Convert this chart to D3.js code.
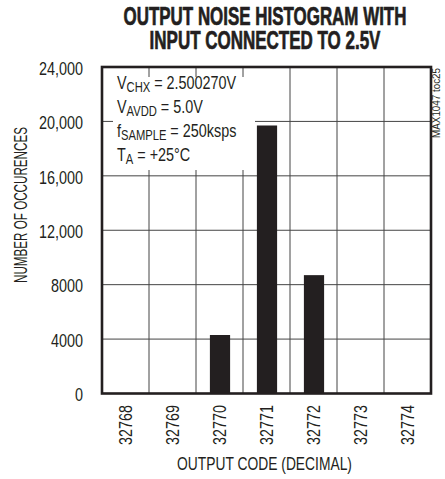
<!DOCTYPE html>
<html><head><meta charset="utf-8">
<script src="https://cdn.jsdelivr.net/npm/d3@7"></script>
<style>
body{margin:0;background:#fff;}
text{font-family:"Liberation Sans",Arial,sans-serif;fill:#231f20;}
</style></head>
<body><svg id="c" width="445" height="479"></svg>
<script>
const categories = ["32768","32769","32770","32771","32772","32773","32774"];
const counts = [0, 0, 4300, 19700, 8700, 0, 0];
const yTicks = [0, 4000, 8000, 12000, 16000, 20000, 24000];
const yTickLabels = ["0","4000","8000","12,000","16,000","20,000","24,000"];
const titleLines = ["OUTPUT NOISE HISTOGRAM WITH","INPUT CONNECTED TO 2.5V"];
const legendLines = [
  [["V",""],["CHX","sub"],[" = 2.500270V",""]],
  [["V",""],["AVDD","sub"],[" = 5.0V",""]],
  [["f",""],["SAMPLE","sub"],[" = 250ksps",""]],
  [["T",""],["A","sub"],[" = +25°C",""]]
];

const svg = d3.select("#c");
const L=102, R=431, T=67, B=393.5;
const ink="#231f20";
const NARROW = 0.8;
const x = d3.scaleBand().domain(categories).range([L,R]).padding(0);
const y = d3.scaleLinear().domain([0,24000]).range([B,T]);

function place(t, tx, ty, rot, opt){
  const w = t.node().getComputedTextLength();
  let s = NARROW;
  if(opt && opt.width) s = opt.width / w;
  t.attr("x",0).attr("y",0)
   .attr("transform",`translate(${tx},${ty}) rotate(${rot||0}) scale(${s},1)`);
  return t;
}

// grid
const g = svg.append("g");
g.selectAll("line.h").data(yTicks.slice(1,-1)).enter().append("line")
  .attr("x1",L).attr("x2",R).attr("y1",d=>y(d)).attr("y2",d=>y(d))
  .attr("stroke","#444").attr("stroke-width",1);
g.selectAll("line.v").data(categories.slice(1)).enter().append("line")
  .attr("x1",d=>x(d)).attr("x2",d=>x(d)).attr("y1",T).attr("y2",B)
  .attr("stroke","#444").attr("stroke-width",1);

// legend background
svg.append("rect").attr("x",113).attr("y",77).attr("width",142).attr("height",93).attr("fill","#fff");

// bars
const bw = x.bandwidth()*0.43;
svg.selectAll("rect.bar").data(categories).enter().append("rect")
  .attr("x",d=>x(d)+x.bandwidth()/2-bw/2+0.5)
  .attr("width",bw)
  .attr("y",(d,i)=>y(counts[i]))
  .attr("height",(d,i)=>B-y(counts[i]))
  .attr("fill",ink);

// frame
svg.append("rect").attr("x",L).attr("y",T).attr("width",R-L).attr("height",B-T)
  .attr("fill","none").attr("stroke",ink).attr("stroke-width",2.6);

// y labels
yTicks.forEach((d,i)=>{
  const t = svg.append("text").attr("text-anchor","end").attr("font-size",18)
    .attr("dy","0.35em").text(yTickLabels[i]);
  place(t, 83, y(d)+1.5, 0);
});

// x labels
categories.forEach(d=>{
  const t = svg.append("text").attr("text-anchor","end").attr("font-size",18).text(d);
  place(t, x(d)+x.bandwidth()/2+6, 405, -90, {width:40});
});

// axis titles
place(svg.append("text").attr("text-anchor","middle").attr("font-size",17.5).text("NUMBER OF OCCURENCES"),
  27, 205, -90, {width:156});
place(svg.append("text").attr("text-anchor","middle").attr("font-size",18).text("OUTPUT CODE (DECIMAL)"),
  264.5, 470, 0, {width:175});

// title
const titleW = [283, 231];
titleLines.forEach((d,i)=>{
  const t = svg.append("text").attr("text-anchor","middle").attr("font-size",25)
    .attr("font-weight","bold").attr("stroke",ink).attr("stroke-width",0.7).text(d);
  place(t, 265, 25+i*23.5, 0, {width:titleW[i]});
});

// legend
legendLines.forEach((parts,i)=>{
  const t = svg.append("text").attr("font-size",18);
  parts.forEach((p,j)=>{
    const s = t.append("tspan").text(p[0]);
    if(p[1]==="sub") s.attr("font-size",14).attr("dy",3);
    else if(j>0) s.attr("dy",-3);
  });
  place(t, 117, 89+i*24, 0);
});

// side note
place(svg.append("text").attr("text-anchor","end").attr("font-size",10.5).text("MAX1047 toc25"),
  440, 68, -90, {width:70});
</script></body></html>
